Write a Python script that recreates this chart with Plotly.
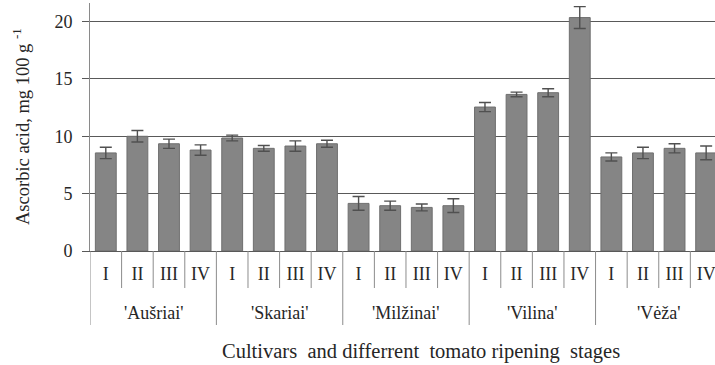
import plotly.graph_objects as go

# Ascorbic acid content by cultivar and ripening stage
cultivars = ["'Aušriai'", "'Skariai'", "'Milžinai'", "'Vilina'", "'Vėža'"]
stages = ["I", "II", "III", "IV"]

ausriai = [8.55, 10.0, 9.35, 8.8]
skariai = [9.85, 8.95, 9.15, 9.35]
milzinai = [4.15, 3.95, 3.8, 3.95]
vilina = [12.55, 13.65, 13.8, 20.35]
veza = [8.2, 8.55, 8.95, 8.55]

ausriai_err = [0.5, 0.5, 0.4, 0.45]
skariai_err = [0.25, 0.25, 0.45, 0.3]
milzinai_err = [0.6, 0.4, 0.3, 0.6]
vilina_err = [0.4, 0.2, 0.35, 0.95]
veza_err = [0.35, 0.5, 0.4, 0.6]

values = ausriai + skariai + milzinai + vilina + veza
errors = ausriai_err + skariai_err + milzinai_err + vilina_err + veza_err
stage_labels = stages * len(cultivars)
xpos = list(range(len(values)))

FONT = "'Liberation Serif', 'Times New Roman', 'DejaVu Serif', serif"
TXT = "#262626"
GRID = "#595959"
SEP = "#8c8c8c"

fig = go.Figure()
fig.add_trace(go.Bar(
    x=xpos, y=values, width=0.66,
    marker=dict(color="#858585", line=dict(color="#6f6f6f", width=1)),
    error_y=dict(type="data", array=errors, visible=True,
                 color="#505050", thickness=1.4, width=6),
    showlegend=False,
))

plot_h = 248
n_st = len(stages)
# category separators below the axis: short between stages, long between cultivars
shapes = []
for b in range(len(values) + 1):
    depth = 74 if b % n_st == 0 else 37
    shapes.append(dict(type="line", xref="x", yref="paper",
                       x0=b - 0.5, x1=b - 0.5, y0=0, y1=-depth / plot_h,
                       line=dict(color=SEP, width=1)))

annotations = []
for g, name in enumerate(cultivars):
    annotations.append(dict(x=g * n_st + (n_st - 1) / 2, xref="x",
                            y=-62 / plot_h, yref="paper",
                            text=name, showarrow=False,
                            font=dict(family=FONT, size=18, color=TXT),
                            xanchor="center", yanchor="middle"))

annotations.append(dict(x=0, xref="paper", xshift=-69, y=0.5, yref="paper",
                        text="Ascorbic acid, mg 100 g <sup>-1</sup>",
                        textangle=-90, showarrow=False,
                        font=dict(family=FONT, size=18.5, color=TXT),
                        xanchor="center", yanchor="middle"))
annotations.append(dict(x=0.53, xref="paper", y=-100 / plot_h, yref="paper",
                        text="Cultivars\u00a0 and differrent\u00a0 tomato ripening\u00a0 stages",
                        showarrow=False,
                        font=dict(family=FONT, size=20.5, color=TXT),
                        xanchor="center", yanchor="middle"))

fig.update_layout(
    width=715, height=365,
    margin=dict(l=90, r=0, t=3, b=114),
    paper_bgcolor="white", plot_bgcolor="white",
    font=dict(family=FONT, size=18, color=TXT),
    shapes=shapes, annotations=annotations,
    xaxis=dict(range=[-0.5, 19.28], tickmode="array", tickvals=xpos,
               ticktext=stage_labels, ticks="", showgrid=False,
               zeroline=False, showline=True, linecolor=GRID, linewidth=1,
               ticklabelstandoff=6, ticklabeloverflow="allow",
               fixedrange=True),
    yaxis=dict(range=[0, 21.62], tickvals=[0, 5, 10, 15, 20],
               showgrid=True, gridcolor=GRID, gridwidth=1,
               zeroline=False, showline=True, linecolor="#8a8a8a", linewidth=1,
               ticks="outside", ticklen=7, tickcolor=GRID,
               ticklabelstandoff=6, fixedrange=True),
)

fig.write_html("out.html")
